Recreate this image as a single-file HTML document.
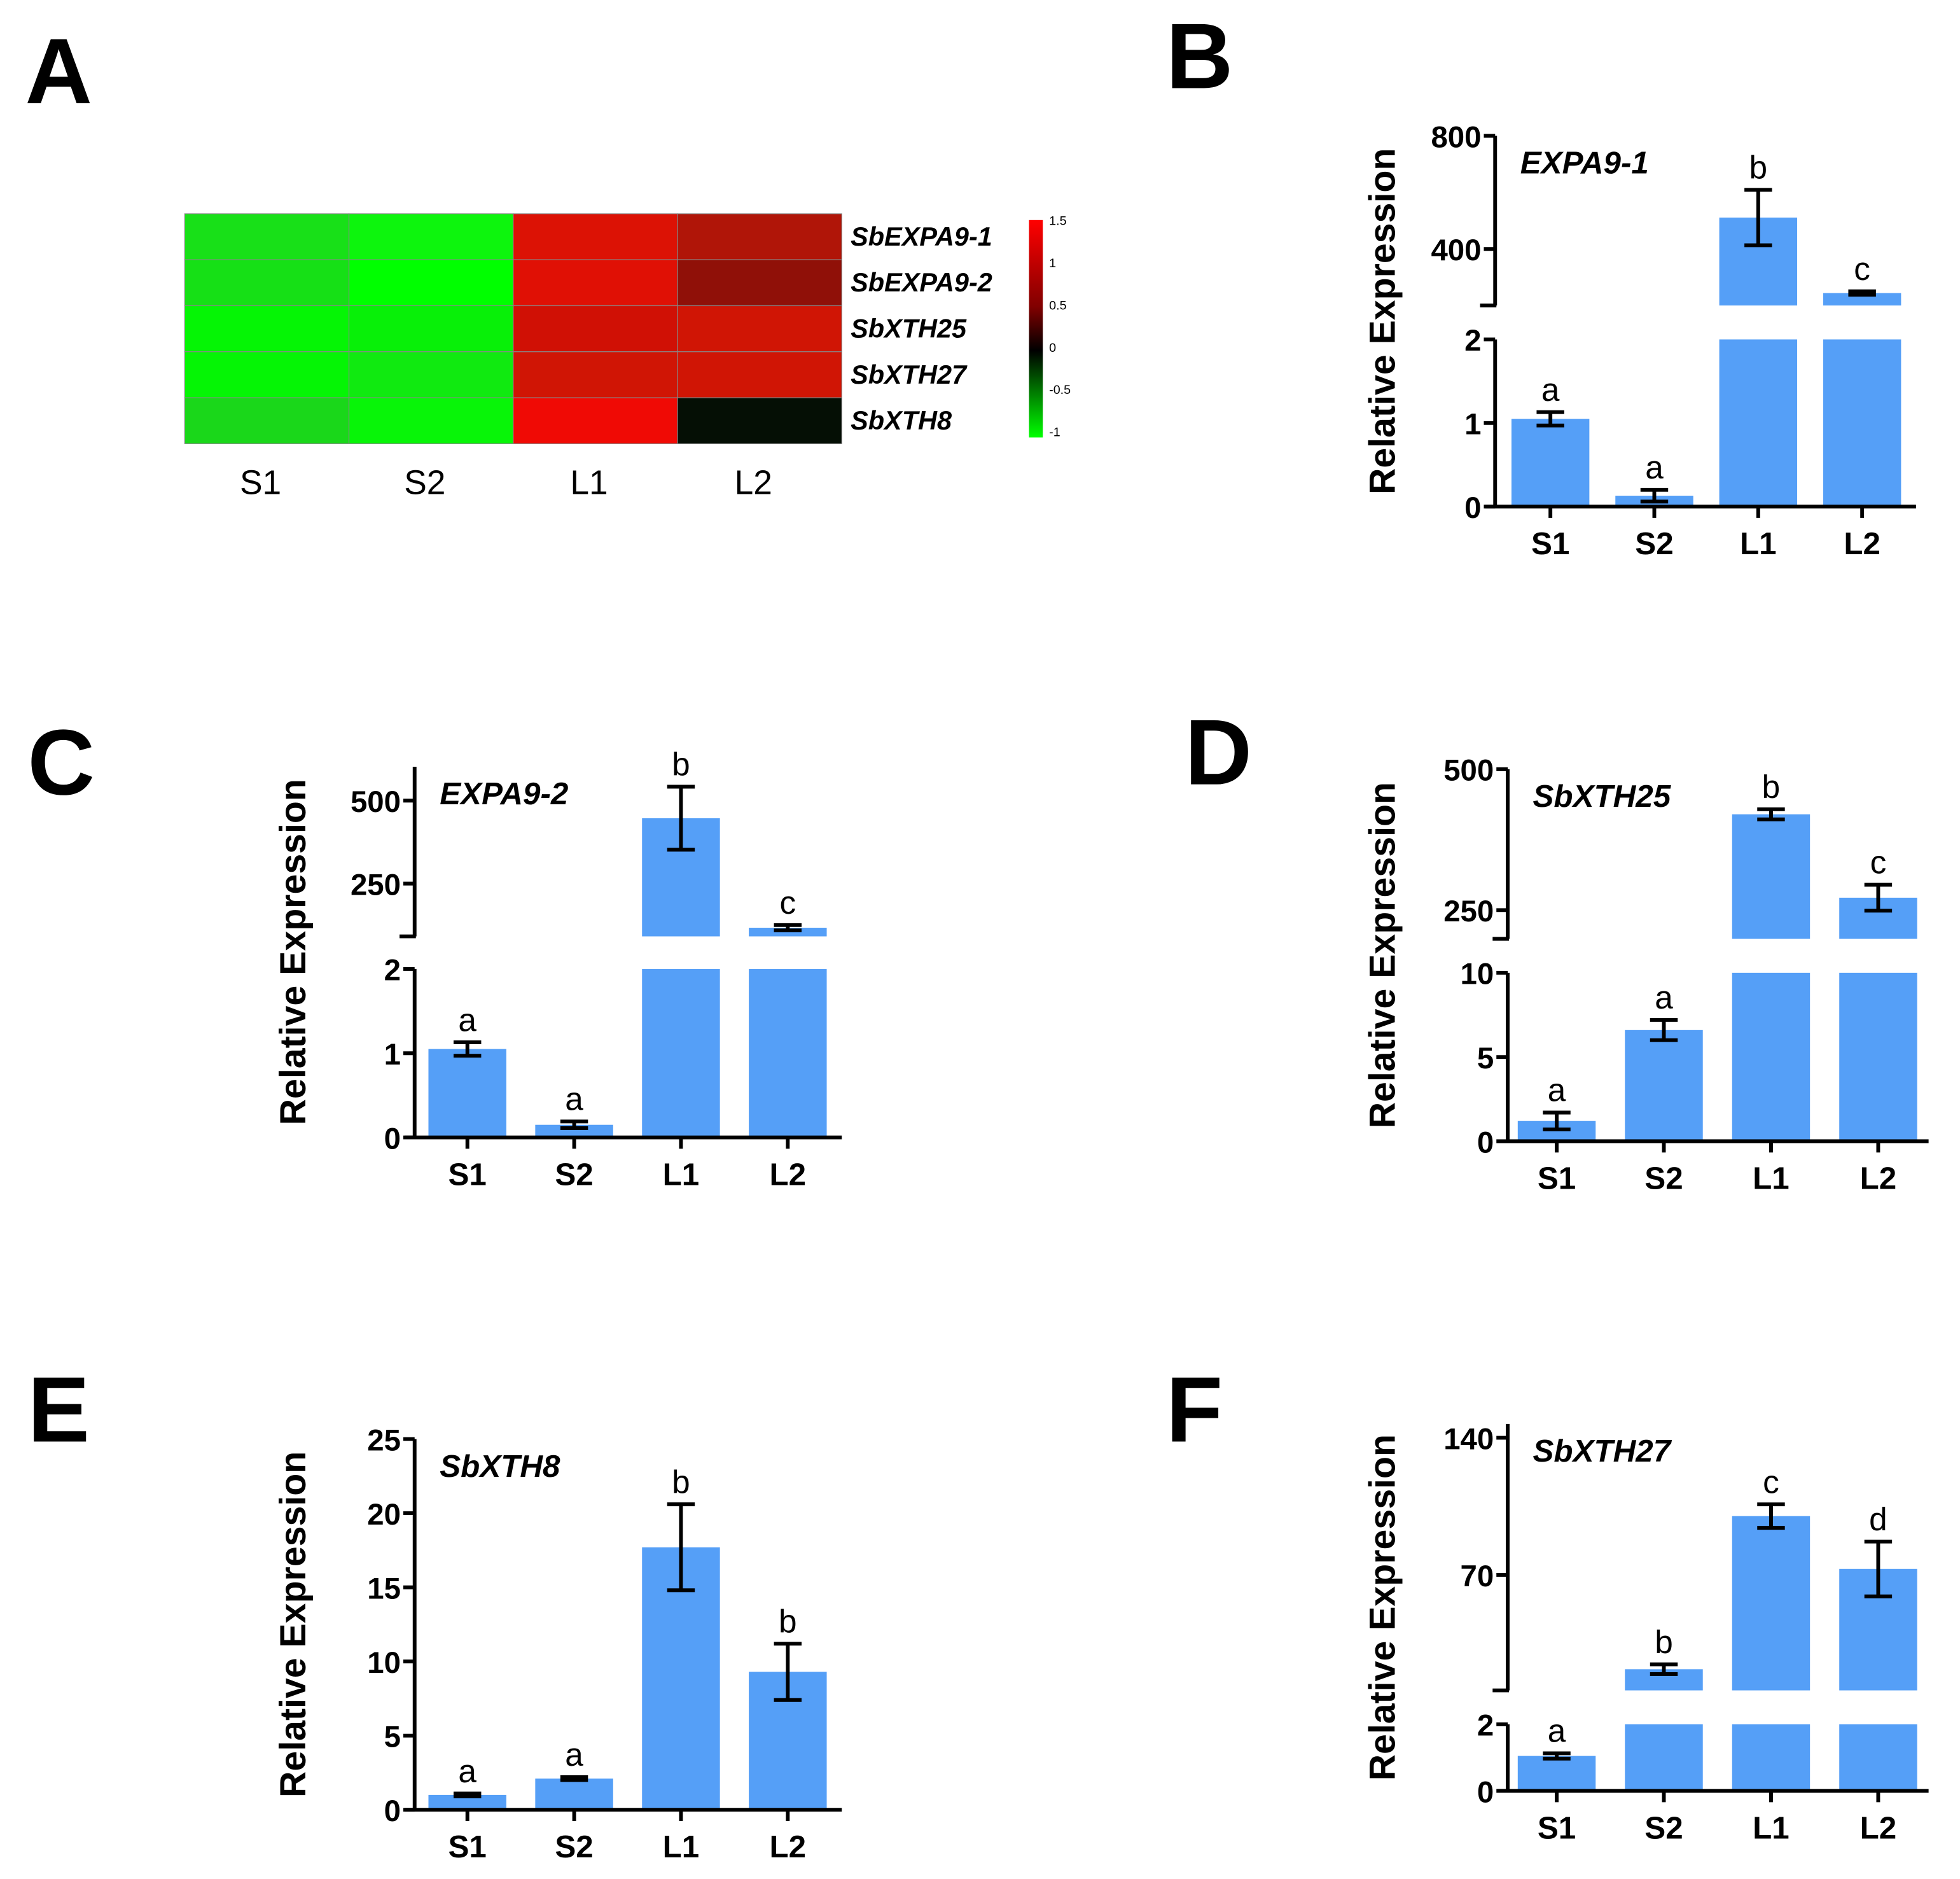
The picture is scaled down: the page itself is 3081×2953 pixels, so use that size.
<!DOCTYPE html>
<html><head><meta charset="utf-8"><style>
html,body{margin:0;padding:0;background:#fff}
svg{display:block}
text{font-family:"Liberation Sans",Arial,sans-serif}
</style></head><body>
<svg id="fig" width="3081" height="2953" viewBox="0 0 1560 1495" xmlns="http://www.w3.org/2000/svg">
<rect width="1560" height="1495" fill="#fff"/>
<g id="heat"></g>
<g id="charts"></g>
</svg>
<script>
// ---- Heatmap data ----
const hmSamples = ["S1","S2","L1","L2"];
const hmGenes = ["SbEXPA9-1","SbEXPA9-2","SbXTH25","SbXTH27","SbXTH8"];
const hmColors = [
 ["#18e018","#0df50d","#dc1205","#b01508"],
 ["#16e016","#00ff00","#e01005","#901008"],
 ["#05f505","#08f008","#d01005","#d01505"],
 ["#05f505","#10ea10","#d01505","#d01505"],
 ["#1ad71a","#08f508","#f00a05","#050f05"]];
const cbTicks = ["1.5","1","0.5","0","-0.5","-1"];

// ---- Bar chart data ----
const cats = ["S1","S2","L1","L2"];
const bVals=[1.05,0.13,511,244], bErr=[0.08,0.07,98,6], bLet=["a","a","b","c"];
const cVals=[1.05,0.15,447,117], cErr=[0.08,0.04,95,8], cLet=["a","a","b","c"];
const dVals=[1.2,6.6,420,272], dErr=[0.5,0.6,9,23], dLet=["a","a","b","c"];
const eVals=[1.0,2.1,17.7,9.3], eErr=[0.1,0.1,2.9,1.9], eLet=["a","a","b","b"];
const fVals=[1.05,21.8,100,73], fErr=[0.08,2.5,6,14], fLet=["a","b","c","d"];
const bLowTicks=[0,1,2], bUpTicks=[400,800];
const cLowTicks=[0,1,2], cUpTicks=[250,500];
const dLowTicks=[0,5,10], dUpTicks=[250,500];
const eTicks=[0,5,10,15,20,25];
const fLowTicks=[0,2], fUpTicks=[70,140];

const NS="http://www.w3.org/2000/svg";
function mk(parent,tag,attrs,txt){const e=document.createElementNS(NS,tag);for(const k in attrs)e.setAttribute(k,attrs[k]);if(txt!==undefined)e.textContent=txt;parent.appendChild(e);return e;}
const svg=document.getElementById('fig');

// panel letters
[["A",20,82],["B",928,70],["C",22,632],["D",943,624],["E",22,1147],["F",928,1147]].forEach(p=>{
 const t=mk(svg,'text',{x:p[1],y:p[2],'font-size':74,'font-weight':'bold'},p[0]);
 
 
});

// heatmap
(function(){
 const g=document.getElementById('heat');
 const x0=147,x1=670,y0=170,y1=353;
 const cw=(x1-x0)/hmSamples.length, rh=(y1-y0)/hmGenes.length;
 hmGenes.forEach((gn,r)=>{
  hmSamples.forEach((s,c)=>{
   const rc=mk(g,'rect',{x:x0+c*cw,y:y0+r*rh,width:cw,height:rh,fill:hmColors[r][c],stroke:'#888','stroke-width':0.6});
   
   
  });
  const t=mk(g,'text',{x:677,y:y0+(r+0.5)*rh+7,'font-size':21,'font-weight':'bold','font-style':'italic'},gn);
  
  
 });
 hmSamples.forEach((s,c)=>{
  const t=mk(g,'text',{x:x0+(c+0.5)*cw-5,y:393,'font-size':27,'text-anchor':'middle'},s);
  
  
 });
 const defs=mk(g,'defs',{});
 const lg=mk(defs,'linearGradient',{id:'cb',x1:0,y1:0,x2:0,y2:1});
 [["0","#ff0000"],["0.4","#800000"],["0.6","#000000"],["0.8","#008000"],["1","#00ff00"]].forEach(s=>mk(lg,'stop',{offset:s[0],'stop-color':s[1]}));
 const cb=mk(g,'rect',{x:819,y:175,width:11,height:173,fill:'url(#cb)'});
 
 
 cbTicks.forEach((v,i)=>{
  const t=mk(g,'text',{x:835,y:179+i*(168/(cbTicks.length-1)),'font-size':10},v);
  
  
 });
})();

// bar chart builder
function chart(cfg){
 const g=mk(document.getElementById('charts'),'g',{});
 
 
 const ax=cfg.ax, y0=cfg.y0;
 const lowS=v=>y0-(v-cfg.lowMin)/(cfg.lowMax-cfg.lowMin)*(y0-cfg.lowTop);
 const upS=v=>cfg.upBot-(v-cfg.upMin)/(cfg.upMax-cfg.upMin)*(cfg.upBot-cfg.upTopPx);
 const hasUp=cfg.upMin!==undefined;
 const bw=62;
 cfg.vals.forEach((v,i)=>{
  const cx=cfg.cx0+i*cfg.dx;
  if(hasUp&&v>cfg.lowMax){
   const r1=mk(g,'rect',{x:cx-bw/2,y:cfg.lowTop,width:bw,height:y0-cfg.lowTop,fill:'#559ff7'});
   
   
   const r2=mk(g,'rect',{x:cx-bw/2,y:upS(v),width:bw,height:cfg.upBot-upS(v),fill:'#559ff7'});
   
   
  } else {
   const r=mk(g,'rect',{x:cx-bw/2,y:lowS(v),width:bw,height:y0-lowS(v),fill:'#559ff7'});
   
   
  }
  const e=cfg.errs[i];
  const scale=(hasUp&&v>cfg.lowMax)?upS:lowS;
  const yt=scale(v+e), yb=Math.min(scale(Math.max(v-e,hasUp&&v>cfg.lowMax?cfg.upMin:0)),y0);
  const eb=mk(g,'path',{d:`M${cx},${yt}V${yb}M${cx-11},${yt}H${cx+11}M${cx-11},${yb}H${cx+11}`,stroke:'#000','stroke-width':3,fill:'none'});
  
  
  const lt=mk(g,'text',{x:cx,y:yt-9,'font-size':26,'text-anchor':'middle'},cfg.lets[i]);
  
  
  const tk=mk(g,'line',{x1:cx,y1:y0,x2:cx,y2:y0+9,stroke:'#000','stroke-width':3});
  
  
  const xl=mk(g,'text',{x:cx,y:y0+38,'font-size':25,'font-weight':'bold','text-anchor':'middle'},cats[i]);
  
  
 });
 const xa=mk(g,'line',{x1:ax-8,y1:y0,x2:cfg.axEnd,y2:y0,stroke:'#000','stroke-width':3});
 
 
 const ya=mk(g,'line',{x1:ax,y1:y0,x2:ax,y2:hasUp?cfg.lowTop:cfg.axTop,stroke:'#000','stroke-width':3});
 
 
 cfg.lowTicks.forEach(t=>{
  const y=lowS(t);
  const l=mk(g,'line',{x1:ax-9,y1:y,x2:ax,y2:y,stroke:'#000','stroke-width':3});
  
  
  const tx=mk(g,'text',{x:ax-11,y:y+9,'font-size':24,'font-weight':'bold','text-anchor':'end'},t);
  
  
 });
 if(hasUp){
  const ya2=mk(g,'line',{x1:ax,y1:cfg.upBot,x2:ax,y2:cfg.axTop,stroke:'#000','stroke-width':3});
  
  
  const bt=mk(g,'line',{x1:ax-12,y1:cfg.upBot,x2:ax+1,y2:cfg.upBot,stroke:'#000','stroke-width':3});
  
  
  cfg.upTicks.forEach(t=>{
   const y=upS(t);
   const l=mk(g,'line',{x1:ax-9,y1:y,x2:ax,y2:y,stroke:'#000','stroke-width':3});
   
   
   const tx=mk(g,'text',{x:ax-11,y:y+9,'font-size':24,'font-weight':'bold','text-anchor':'end'},t);
   
   
  });
 }
 const yc=(y0+cfg.axTop)/2;
 const yt=mk(g,'text',{x:0,y:0,'font-size':29,'font-weight':'bold','text-anchor':'middle',transform:`translate(${cfg.titleX},${yc}) rotate(-90)`},'Relative Expression');
 
 
 const gt=mk(g,'text',{x:ax+20,y:cfg.axTop+30,'font-size':25,'font-weight':'bold','font-style':'italic'},cfg.gene);
 
 
}

chart({name:'chart-b-expa9-1',gene:'EXPA9-1',vals:bVals,errs:bErr,lets:bLet,ax:1190,axEnd:1525,y0:403,lowMin:0,lowMax:2,lowTop:270,lowTicks:bLowTicks,upMin:200,upMax:800,upBot:243,upTopPx:108,upTicks:bUpTicks,axTop:108,cx0:1234,dx:82.7,titleX:1110});
chart({name:'chart-c-expa9-2',gene:'EXPA9-2',vals:cVals,errs:cErr,lets:cLet,ax:330,axEnd:670,y0:905,lowMin:0,lowMax:2,lowTop:771,lowTicks:cLowTicks,upMin:91,upMax:500,upBot:745,upTopPx:637,upTicks:cUpTicks,axTop:610,cx0:372,dx:85,titleX:243});
chart({name:'chart-d-sbxth25',gene:'SbXTH25',vals:dVals,errs:dErr,lets:dLet,ax:1200,axEnd:1535,y0:908,lowMin:0,lowMax:10,lowTop:774,lowTicks:dLowTicks,upMin:199,upMax:500,upBot:747,upTopPx:612,upTicks:dUpTicks,axTop:612,cx0:1239,dx:85.3,titleX:1110});
chart({name:'chart-e-sbxth8',gene:'SbXTH8',vals:eVals,errs:eErr,lets:eLet,ax:330,axEnd:670,y0:1440,lowMin:0,lowMax:25,lowTop:1145,lowTicks:eTicks,axTop:1145,cx0:372,dx:85,titleX:243});
chart({name:'chart-f-sbxth27',gene:'SbXTH27',vals:fVals,errs:fErr,lets:fLet,ax:1200,axEnd:1535,y0:1425,lowMin:0,lowMax:2,lowTop:1372,lowTicks:fLowTicks,upMin:11,upMax:140,upBot:1345,upTopPx:1144,upTicks:fUpTicks,axTop:1133,cx0:1239,dx:85.3,titleX:1110});
</script>
</body></html>
